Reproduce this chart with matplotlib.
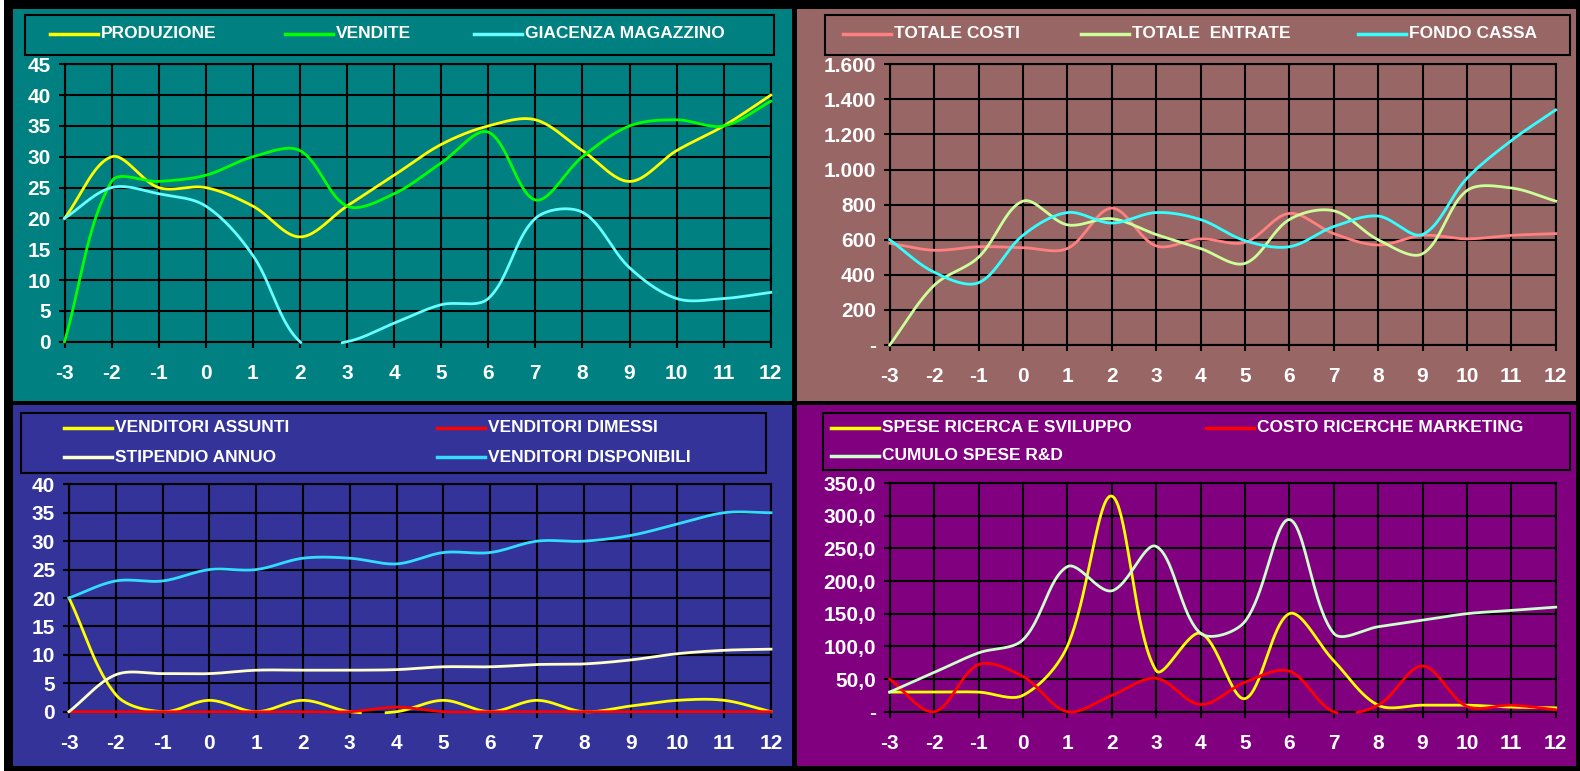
import numpy as np
import matplotlib
matplotlib.use('Agg')
import matplotlib.pyplot as plt
from matplotlib.patches import Rectangle
from matplotlib.lines import Line2D
from matplotlib.ticker import FuncFormatter

plt.rcParams['font.family'] = ['Liberation Sans', 'DejaVu Sans']
plt.rcParams['font.weight'] = 'bold'
plt.rcParams['axes.unicode_minus'] = False

W, H = 1580, 771

# periods on the x axis
periodi = [-3, -2, -1, 0, 1, 2, 3, 4, 5, 6, 7, 8, 9, 10, 11, 12]

# panel 1: production / sales / stock
produzione = [20, 30, 25, 25, 22, 17, 22, 27, 32, 35, 36, 31, 26, 31, 35, 40]
vendite = [0, 26, 26, 27, 30, 31, 22, 24, 29, 34, 23, 30, 35, 36, 35, 39]
giacenza = [20, 25, 24, 22, 14, 0, 0, 3, 6, 7, 20, 21, 12, 7, 7, 8]

# panel 2: costs / income / cash
totale_costi = [580, 540, 560, 555, 550, 780, 565, 605, 585, 750, 635, 570, 625, 605, 625, 635]
totale_entrate = [0, 340, 500, 820, 685, 720, 630, 550, 465, 715, 765, 600, 520, 880, 895, 820]
fondo_cassa = [600, 415, 355, 625, 755, 695, 755, 715, 595, 560, 675, 735, 630, 950, 1165, 1340]

# panel 3: sales force
venditori_assunti = [20, 3, 0, 2, 0, 2, 0, 0, 2, 0, 2, 0, 1, 2, 2, 0]
venditori_dimessi = [0, 0, 0, 0, 0, 0, 0, 0.8, 0, 0, 0, 0, 0, 0, 0, 0]
stipendio_annuo = [0, 6.5, 6.7, 6.7, 7.3, 7.3, 7.3, 7.4, 7.9, 7.9, 8.3, 8.4, 9.1, 10.2, 10.8, 11]
venditori_disponibili = [20, 23, 23, 25, 25, 27, 27, 26, 28, 28, 30, 30, 31, 33, 35, 35]

# panel 4: R&D and marketing
spese_rs = [30, 30, 30, 25, 100, 330, 63, 120, 20, 150, 78, 10, 10, 10, 7, 6]
costo_marketing = [50, 0, 72, 54, 0, 25, 51, 11, 45, 62, 0, 10, 70, 8, 10, 3]
cumulo_rd = [30, 60, 90, 110, 222, 185, 253, 120, 138, 294, 120, 130, 140, 150, 155, 160]


def fx(px):
    return px / W


def fy(py):
    return 1 - py / H


def smooth(x, y, sx, sy, n=40):
    """
    Excel-like smoothed line: cubic Bezier through the points, control
    points weighted by the segment lengths in screen pixels.
    """
    P = np.column_stack([np.asarray(x, float) * sx, np.asarray(y, float) * sy])
    m = len(P)
    t = np.linspace(0, 1, n, endpoint=False)[:, None]
    out = []
    for i in range(m - 1):
        p0 = P[i - 1] if i > 0 else P[i]
        p1, p2 = P[i], P[i + 1]
        p3 = P[i + 2] if i + 2 < m else P[i + 1]
        d01 = np.hypot(*(p1 - p0))
        d12 = np.hypot(*(p2 - p1))
        d23 = np.hypot(*(p3 - p2))
        c1 = p1 + (p2 - p0) * (d12 / (d01 + d12)) / 3 if d01 + d12 > 0 else p1
        c2 = p2 - (p3 - p1) * (d12 / (d12 + d23)) / 3 if d12 + d23 > 0 else p2
        seg = ((1 - t) ** 3 * p1 + 3 * (1 - t) ** 2 * t * c1
               + 3 * (1 - t) * t ** 2 * c2 + t ** 3 * p2)
        out.append(seg)
    out.append(P[-1:])
    out = np.vstack(out)
    xs = out[:, 0] / sx
    ys = out[:, 1] / sy
    ys[ys < -1.0 / sy] = np.nan   # below the axis minimum: not drawn
    return xs, ys


fig = plt.figure(figsize=(W / 100, H / 100), dpi=100, facecolor='black')
fig.patches.append(Rectangle((0, 0), fx(4), 1, transform=fig.transFigure,
                             facecolor='white', edgecolor='none', zorder=-5))

panels = [
    dict(rect=(13, 9, 792, 401), bg='#008080', ax=(64.5, 64.3, 770.8, 341.7),
         ymax=45, step=5, fmt=lambda v, p: '%d' % v,
         series=[(produzione, '#FFFF00', 'PRODUZIONE'),
                 (vendite, '#00FF00', 'VENDITE'),
                 (giacenza, '#66FFFF', 'GIACENZA MAGAZZINO')],
         legbox=(25, 15, 774, 55),
         legpos=[(50, 34), (285, 34), (474, 34)]),
    dict(rect=(797, 9, 1576, 401), bg='#996666', ax=(889.7, 64.3, 1555.7, 345),
         ymax=1600, step=200,
         fmt=lambda v, p: '-' if v == 0 else '{:,.0f}'.format(v).replace(',', '.'),
         series=[(totale_costi, '#FF8080', 'TOTALE COSTI'),
                 (totale_entrate, '#CCFF99', 'TOTALE  ENTRATE'),
                 (fondo_cassa, '#33FFFF', 'FONDO CASSA')],
         legbox=(825, 15, 1570, 55),
         legpos=[(843, 34), (1081, 34), (1358, 34)]),
    dict(rect=(13, 405, 792, 766), bg='#333399', ax=(69, 484.3, 771, 711.7),
         ymax=40, step=5, fmt=lambda v, p: '%d' % v,
         series=[(venditori_assunti, '#FFFF00', 'VENDITORI ASSUNTI'),
                 (venditori_dimessi, '#FF0000', 'VENDITORI DIMESSI'),
                 (stipendio_annuo, '#FFFFCC', 'STIPENDIO ANNUO'),
                 (venditori_disponibili, '#33DDFF', 'VENDITORI DISPONIBILI')],
         legbox=(21, 413, 766, 473),
         legpos=[(64, 428), (437, 428), (64, 457), (437, 457)]),
    dict(rect=(797, 405, 1576, 766), bg='#800080', ax=(889.7, 483, 1555.7, 711.7),
         ymax=350, step=50,
         fmt=lambda v, p: '-' if v == 0 else ('%.1f' % v).replace('.', ','),
         series=[(spese_rs, '#FFFF00', 'SPESE RICERCA E SVILUPPO'),
                 (costo_marketing, '#FF0000', 'COSTO RICERCHE MARKETING'),
                 (cumulo_rd, '#CCFFCC', 'CUMULO SPESE R&D')],
         legbox=(823, 413, 1570, 470),
         legpos=[(831, 428), (1206, 428), (831, 456)]),
]

for pn in panels:
    x0, y0, x1, y1 = pn['rect']
    fig.patches.append(Rectangle((fx(x0), fy(y1)), fx(x1 - x0), (y1 - y0) / H,
                                 transform=fig.transFigure, facecolor=pn['bg'],
                                 edgecolor='none', zorder=-5))

    ax0, ay0, ax1, ay1 = pn['ax']
    ax = fig.add_axes([fx(ax0), fy(ay1), fx(ax1 - ax0), (ay1 - ay0) / H])
    ax.set_zorder(1)
    ax.set_facecolor('none')
    sx = (ax1 - ax0) / (periodi[-1] - periodi[0])
    sy = (ay1 - ay0) / pn['ymax']
    for s in pn['series']:
        xs, ys = smooth(periodi, s[0], sx, sy)
        ax.plot(xs, ys, color=s[1], lw=2, clip_on=False, zorder=3)

    ax.set_xlim(-3, 12)
    ax.set_ylim(0, pn['ymax'])
    ax.set_xticks(periodi)
    ax.set_yticks(np.arange(0, pn['ymax'] + 1, pn['step']))
    ax.yaxis.set_major_formatter(FuncFormatter(pn['fmt']))
    ax.grid(True, color='black', lw=1.5, zorder=1)
    ax.set_axisbelow(True)
    for sp in ax.spines.values():
        sp.set_color('black')
        sp.set_linewidth(1.5)
    ax.tick_params(axis='x', colors='black', length=4, width=1.5, pad=12,
                   labelcolor='white', labelsize=15)
    ax.tick_params(axis='y', colors='black', length=4, width=1.5, pad=6,
                   labelcolor='white', labelsize=15)
    for lab in ax.get_xticklabels() + ax.get_yticklabels():
        lab.set_fontweight('bold')

    # legend box drawn like the Excel one
    lx0, ly0, lx1, ly1 = pn['legbox']
    fig.patches.append(Rectangle((fx(lx0), fy(ly1)), fx(lx1 - lx0), (ly1 - ly0) / H,
                                 transform=fig.transFigure, facecolor='none',
                                 edgecolor='black', lw=1.5, zorder=2))
    for (px, py), s in zip(pn['legpos'], pn['series']):
        fig.lines.append(Line2D([fx(px), fx(px + 48)], [fy(py), fy(py)],
                                transform=fig.transFigure, color=s[1], lw=2.5))
        fig.text(fx(px + 51), fy(py), s[2], color='white', fontsize=12.5,
                 fontweight='bold', va='center', ha='left')

fig.savefig('out.png', dpi=100, facecolor='black')
